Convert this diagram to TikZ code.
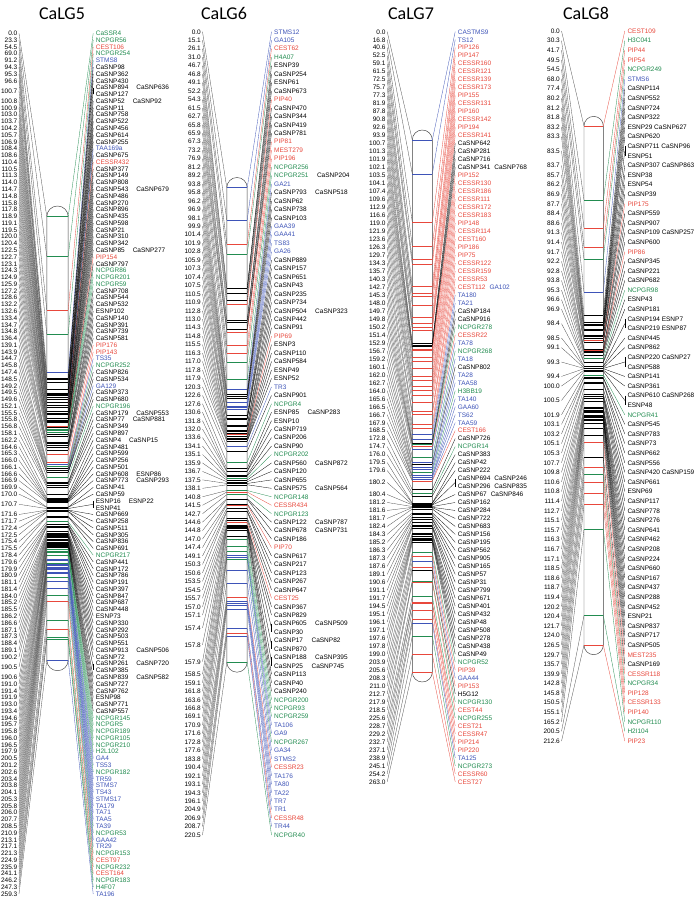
\documentclass[tikz,border=0pt]{standalone}
\usepackage{fontspec}
\setmainfont{Liberation Sans}
\newfontfamily\titlefont{Carlito}
\definecolor{mk}{RGB}{0,0,0}
\definecolor{mr}{RGB}{232,72,60}
\definecolor{mg}{RGB}{34,140,80}
\definecolor{mb}{RGB}{62,84,184}
\newcount\rowc
\newlength\gapw
\newcommand\gp{\hspace*{\gapw}}
\tikzset{
  llab/.style={anchor=east,font=\fontsize{6.5}{7}\selectfont,inner xsep=1.5pt,inner ysep=0pt,text height=4.65pt,text depth=0pt},
  rlab/.style={anchor=west,font=\fontsize{6.5}{7}\selectfont,inner xsep=2.5pt,inner ysep=0pt,text height=4.65pt,text depth=0pt},
  lline/.style={line width=0.3pt,draw=black!70},
  rline/.style={line width=0.3pt},
  tickst/.style={line width=0.45pt},
  barst/.style={draw=black!75,line width=0.45pt,fill=white},
  ttl/.style={font=\titlefont\fontsize{18}{20}\selectfont,inner sep=0pt}
}
\newcommand\drawchrom[2]{%
  \pgfmathsetmacro\crad{(\cbr-\cbl)/2}%
  \draw[barst] (\cbl,\cyb) -- (\cbl,\cyt) arc[start angle=180,end angle=0,radius=\crad pt] -- (\cbr,\cyb) arc[start angle=0,end angle=-180,radius=\crad pt] -- cycle;
  \global\rowc=0
  \foreach \mpos/\mcol/\mflg/\mtxt in {#2}{%
    \edef\ix{\the\rowc}%
    \pgfmathsetmacro\yr{\cyz+\ix*\cdy}%
    \pgfmathsetmacro\yp{\cyt+\mpos*\csc}%
    \ifnum\mflg=1\relax\pgfmathsetmacro\yl{\yr+0.5*\cdy}\else\let\yl\yr\fi
    \coordinate (A#1-\ix) at (\cbl,\yp);
    \coordinate (B#1-\ix) at (\cbr,\yp);
    \node[rlab,text=\mcol] (R#1-\ix) at (\cxr-2.5,\yr) {\mtxt};
    \ifnum\mflg<2\relax
      \node[llab] (L#1-\ix) at (\cxl+1.5,\yl) {\mpos};
      \draw[lline] (L#1-\ix.east) -- (A#1-\ix);
      \draw[tickst,color=\mcol] (A#1-\ix) -- (B#1-\ix);
    \fi
    \ifnum\mflg=0\relax
      \draw[rline,color=\mcol] (B#1-\ix) -- (R#1-\ix.west);
    \fi
    \ifnum\mflg=1\relax
      \coordinate (K#1-\ix) at (\cxr-2.5,\yl);
      \draw[rline,color=\mcol] (B#1-\ix) -- (K#1-\ix);
    \fi
    \ifnum\mflg=2\relax
      \pgfmathtruncatemacro\ixp{\ix-1}%
      \draw[rline,color=\mcol] (R#1-\ixp.west) -- (R#1-\ix.west);
    \fi
    \global\advance\rowc by 1\relax
  }%
}
\begin{document}
\begin{tikzpicture}[x=1pt,y=-1pt]
\fill[white] (0,0) rectangle (696,898);
\useasboundingbox (0,0) rectangle (696,898);
\node[ttl] (t5) at (62,13.5) {CaLG5};
\node[ttl] (t6) at (224,13.5) {CaLG6};
\node[ttl] (t7) at (411,13.5) {CaLG7};
\node[ttl] (t8) at (586,13.5) {CaLG8};
% ---------------- CaLG5
\def\cxl{17.5}\def\cbl{46.8}\def\cbr{68.2}\def\cxr{95.7}
\def\cyz{33.3}\def\cdy{6.777}\def\cyt{216.7}\def\cyb{660}\def\csc{1.7096}
\setlength\gapw{8pt}
\drawchrom{5}{0.0/mg/0/CaSSR4,23.3/mg/0/NCPGR56,54.5/mr/0/CEST106,69.0/mg/0/NCPGR254,91.2/mb/0/STMS8,94.3/mk/0/CaSNP98,95.3/mk/0/CaSNP362,96.6/mk/0/CaSNP430,100.7/mk/1/CaSNP894\gp CaSNP636,100.7/mk/2/CaSNP127,100.8/mk/0/CaSNP52\gp CaSNP92,100.9/mk/0/CaSNP11,103.0/mk/0/CaSNP758,103.7/mk/0/CaSNP522,104.2/mk/0/CaSNP456,105.7/mk/0/CaSNP614,106.9/mk/0/CaSNP255,108.4/mb/0/TAA169a,108.6/mk/0/CaSNP675,110.4/mr/0/CESSR432,110.5/mk/0/CaSNP377,111.3/mk/0/CaSNP149,114.0/mk/0/CaSNP808,114.7/mk/0/CaSNP543\gp CaSNP679,114.8/mk/0/CaSNP486,115.8/mk/0/CaSNP270,117.8/mk/0/CaSNP896,118.9/mk/0/CaSNP435,119.1/mk/0/CaSNP598,119.5/mk/0/CaSNP21,120.0/mk/0/CaSNP310,120.4/mk/0/CaSNP342,122.5/mk/0/CaSNP85\gp CaSNP277,122.7/mr/0/PIP154,123.1/mk/0/CaSNP797,124.3/mg/0/NCPGR86,124.9/mg/0/NCPGR201,125.9/mg/0/NCPGR59,127.2/mk/0/CaSNP708,128.6/mk/0/CaSNP544,132.2/mk/0/CaSNP532,132.6/mk/0/ESNP102,133.4/mk/0/CaSNP140,134.7/mk/0/CaSNP391,134.8/mk/0/CaSNP739,136.4/mk/0/CaSNP581,139.1/mr/0/PIP176,143.9/mr/0/PIP143,144.7/mb/0/TS35,145.8/mg/0/NCPGR252,147.4/mk/0/CaSNP826,148.5/mk/0/CaSNP534,149.2/mb/0/GA129,149.5/mk/0/CaSNP373,149.6/mk/0/CaSNP680,152.1/mg/0/NCPGR196,155.5/mk/0/CaSNP179\gp CaSNP553,155.8/mk/0/CaSNP77\gp CaSNP881,156.8/mk/0/CaSNP349,158.1/mk/0/CaSNP897,162.2/mk/0/CaSNP4\gp CaSNP15,164.6/mk/0/CaSNP481,165.3/mk/0/CaSNP599,166.0/mk/0/CaSNP256,166.1/mk/0/CaSNP501,166.6/mk/0/CaSNP608\gp ESNP86,166.9/mk/0/CaSNP773\gp CaSNP293,169.9/mk/0/CaSNP41,170.0/mk/0/CaSNP59,170.7/mk/1/ESNP16\gp ESNP22,170.7/mk/2/ESNP41,171.6/mk/0/CaSNP669,171.7/mk/0/CaSNP258,172.4/mk/0/CaSNP511,172.5/mk/0/CaSNP305,175.4/mk/0/CaSNP836,175.5/mk/0/CaSNP691,178.4/mg/0/NCPGR217,179.6/mk/0/CaSNP441,179.9/mk/0/CaSNP172,180.9/mk/0/CaSNP786,181.1/mk/0/CaSNP191,181.4/mk/0/CaSNP397,184.0/mk/0/CaSNP847,185.2/mk/0/CaSNP687,185.5/mk/0/CaSNP448,186.2/mk/0/ESNP73,186.6/mk/0/CaSNP330,187.1/mk/0/CaSNP292,187.3/mk/0/CaSNP503,188.4/mk/0/CaSNP551,189.1/mk/0/CaSNP913\gp CaSNP506,190.2/mk/0/CaSNP72,190.5/mk/1/CaSNP261\gp CaSNP720,190.5/mk/2/CaSNP385,190.6/mk/0/CaSNP839\gp CaSNP582,191.0/mk/0/CaSNP727,191.4/mk/0/CaSNP762,191.9/mk/0/ESNP98,193.0/mk/0/CaSNP771,193.4/mk/0/CaSNP557,194.6/mg/0/NCPGR145,195.7/mg/0/NCPGR5,195.8/mg/0/NCPGR189,196.0/mg/0/NCPGR105,196.5/mg/0/NCPGR210,197.9/mg/0/H2L102,200.5/mb/0/GA4,201.2/mb/0/TS53,202.6/mg/0/NCPGR182,203.4/mb/0/TR59,203.8/mb/0/STMS7,204.1/mb/0/TS43,205.3/mb/0/STMS17,205.8/mb/0/TA179,206.0/mb/0/TA71,207.7/mb/0/TAA5,208.5/mb/0/TA39,210.9/mg/0/NCPGR53,213.1/mb/0/GAA42,217.1/mb/0/TR29,221.3/mg/0/NCPGR153,224.9/mr/0/CEST97,235.9/mg/0/NCPGR232,241.1/mr/0/CEST164,246.2/mg/0/NCPGR183,247.3/mg/0/H4F07,259.3/mb/0/TA196}
% ---------------- CaLG6
\def\cxl{201}\def\cbl{226.8}\def\cbr{247.2}\def\cxr{274}
\def\cyz{31.7}\def\cdy{8.456}\def\cyt{187.7}\def\cyb{662}\def\csc{2.151}
\setlength\gapw{8.5pt}
\drawchrom{6}{0.0/mb/0/STMS12,15.1/mb/0/GA105,26.1/mr/0/CEST62,31.0/mg/0/H4A07,46.7/mk/0/ESNP39,46.8/mk/0/CaSNP254,49.1/mk/0/ESNP61,52.2/mk/0/CaSNP673,54.3/mr/0/PIP40,61.5/mk/0/CaSNP470,62.7/mk/0/CaSNP344,65.8/mk/0/CaSNP419,65.9/mk/0/CaSNP781,67.3/mr/0/PIP81,73.2/mr/0/MEST279,76.9/mr/0/PIP196,81.2/mg/0/NCPGR256,89.2/mg/0/NCPGR251\gp\textcolor{mk}{CaSNP204},93.8/mb/0/GA21,95.8/mk/0/CaSNP793\gp CaSNP518,96.2/mk/0/CaSNP62,96.9/mk/0/CaSNP738,98.1/mk/0/CaSNP103,99.9/mb/0/GAA39,101.4/mb/0/GAA41,101.9/mb/0/TS83,102.8/mb/0/GA26,105.9/mk/0/CaSNP889,107.3/mk/0/CaSNP157,107.4/mk/0/CaSNP651,107.5/mk/0/CaSNP43,110.5/mk/0/CaSNP235,110.9/mk/0/CaSNP734,112.8/mk/0/CaSNP504\gp CaSNP323,113.0/mk/0/CaSNP442,114.3/mk/0/CaSNP91,114.8/mr/0/PIP69,115.5/mk/0/ESNP3,116.3/mk/0/CaSNP110,117.0/mk/0/CaSNP584,117.8/mk/0/ESNP49,117.9/mk/0/ESNP52,120.3/mb/0/TR3,122.6/mk/0/CaSNP901,127.6/mg/0/NCPGR4,130.6/mk/0/ESNP85\gp CaSNP283,131.8/mk/0/ESNP10,132.0/mk/0/CaSNP719,133.6/mk/0/CaSNP206,134.1/mk/0/CaSNP90,135.1/mg/0/NCPGR202,135.9/mk/0/CaSNP560\gp CaSNP872,136.7/mk/0/CaSNP120,137.5/mk/0/CaSNP655,138.1/mk/0/CaSNP575\gp CaSNP564,140.8/mg/0/NCPGR148,141.5/mr/0/CESSR434,142.7/mg/0/NCPGR123,144.6/mk/0/CaSNP122\gp CaSNP787,144.8/mk/0/CaSNP678\gp CaSNP731,147.0/mk/0/CaSNP186,147.4/mr/0/PIP70,149.1/mk/0/CaSNP617,150.3/mk/0/CaSNP217,150.6/mk/0/CaSNP123,153.5/mk/0/CaSNP267,154.5/mk/0/CaSNP647,155.7/mr/0/CEST25,157.0/mk/0/CaSNP367,157.1/mk/0/CaSNP829,157.4/mk/1/CaSNP605\gp CaSNP509,157.4/mk/2/CaSNP30,157.8/mk/1/CaSNP17\gp CaSNP82,157.8/mk/2/CaSNP870,157.9/mk/1/CaSNP188\gp CaSNP395,157.9/mk/2/CaSNP25\gp CaSNP745,158.5/mk/0/CaSNP113,159.1/mk/0/CaSNP40,161.8/mk/0/CaSNP240,163.6/mg/0/NCPGR200,166.8/mg/0/NCPGR93,169.1/mg/0/NCPGR259,170.9/mb/0/TA106,171.6/mb/0/GA9,172.8/mg/0/NCPGR267,177.6/mb/0/GA34,183.8/mb/0/STMS2,190.4/mr/0/CESSR23,192.1/mb/0/TA176,193.1/mb/0/TA80,194.3/mb/0/TA22,196.1/mb/0/TR7,204.9/mb/0/TR1,206.9/mr/0/CESSR48,208.7/mb/0/TR44,220.5/mg/0/NCPGR40}
% ---------------- CaLG7
\def\cxl{385.7}\def\cbl{412.3}\def\cbr{432.3}\def\cxr{457.7}
\def\cyz{31.7}\def\cdy{7.979}\def\cyt{140}\def\cyb{672}\def\csc{2.0228}
\setlength\gapw{4pt}
\drawchrom{7}{0.0/mb/0/CASTMS9,16.8/mb/0/TS12,40.6/mr/0/PIP126,52.5/mr/0/PIP147,59.1/mr/0/CESSR160,61.5/mr/0/CESSR121,72.5/mr/0/CESSR139,75.7/mr/0/CESSR173,77.3/mr/0/PIP155,81.9/mr/0/CESSR131,87.8/mr/0/PIP160,90.8/mr/0/CESSR142,92.6/mr/0/PIP194,93.9/mr/0/CESSR141,100.7/mk/0/CaSNP642,101.3/mk/0/CaSNP281,101.9/mk/0/CaSNP716,102.1/mk/0/CaSNP341\gp CaSNP768,103.5/mr/0/PIP152,104.1/mr/0/CESSR130,107.4/mr/0/CESSR186,109.6/mr/0/CESSR111,112.9/mr/0/CESSR172,116.6/mr/0/CESSR183,119.0/mr/0/PIP148,121.9/mr/0/CESSR114,123.6/mr/0/CEST160,126.3/mr/0/PIP186,129.7/mr/0/PIP75,134.3/mr/0/CESSR122,135.7/mr/0/CESSR159,140.3/mr/0/CESSR53,142.7/mr/0/CEST112\gp\textcolor{mb}{GA102},145.3/mb/0/TA180,148.0/mb/0/TA21,149.7/mk/0/CaSNP184,149.8/mk/0/CaSNP916,150.2/mg/0/NCPGR278,151.4/mr/0/CESSR22,152.9/mb/0/TA78,156.7/mg/0/NCPGR268,159.2/mb/0/TA18,160.1/mk/0/CaSNP802,162.0/mb/0/TA28,162.7/mb/0/TAA58,164.0/mg/0/H3BB19,165.6/mb/0/TA140,166.5/mb/0/GAA60,166.7/mb/0/TS62,167.9/mb/0/TAA59,168.5/mr/0/CEST166,172.8/mk/0/CaSNP726,174.7/mg/0/NCPGR14,176.0/mk/0/CaSNP383,179.5/mk/0/CaSNP42,179.6/mk/0/CaSNP222,180.2/mk/1/CaSNP694\gp CaSNP246,180.2/mk/2/CaSNP296\gp CaSNP835,180.4/mk/0/CaSNP67\gp CaSNP846,181.2/mk/0/CaSNP162,181.6/mk/0/CaSNP284,181.7/mk/0/CaSNP722,182.4/mk/0/CaSNP683,184.3/mk/0/CaSNP156,185.2/mk/0/CaSNP195,186.3/mk/0/CaSNP562,187.3/mk/0/CaSNP905,187.6/mk/0/CaSNP165,189.1/mk/0/CaSNP57,190.6/mk/0/CaSNP31,191.1/mk/0/CaSNP799,191.7/mk/0/CaSNP671,194.5/mk/0/CaSNP401,195.1/mk/0/CaSNP432,196.1/mk/0/CaSNP48,197.1/mk/0/CaSNP508,197.6/mk/0/CaSNP278,197.8/mk/0/CaSNP438,199.0/mk/0/CaSNP49,203.9/mg/0/NCPGR52,205.6/mr/0/PIP39,208.3/mb/0/GAA44,211.0/mr/0/PIP153,212.7/mk/0/H5G12,217.9/mg/0/NCPGR130,218.5/mr/0/CEST44,225.6/mg/0/NCPGR255,228.7/mr/0/CEST21,229.2/mr/0/CESSR47,232.7/mr/0/PIP214,237.1/mr/0/PIP220,238.9/mb/0/TA125,245.1/mg/0/NCPGR273,254.2/mr/0/CESSR60,263.0/mr/0/CEST27}
% ---------------- CaLG8
\def\cxl{560}\def\cbl{584}\def\cbr{603.3}\def\cxr{627.3}
\def\cyz{31}\def\cdy{9.595}\def\cyt{126}\def\cyb{645}\def\csc{2.4412}
\setlength\gapw{1.8pt}
\drawchrom{8}{0.0/mr/0/CEST109,30.3/mg/0/H3C041,41.7/mr/0/PIP44,49.5/mr/0/PIP54,54.5/mg/0/NCPGR249,68.0/mb/0/STMS6,77.4/mk/0/CaSNP114,80.2/mk/0/CaSNP552,81.2/mk/0/CaSNP724,81.8/mk/0/CaSNP322,83.2/mk/0/ESNP29\gp CaSNP627,83.3/mk/0/CaSNP620,83.5/mk/1/CaSNP711\gp CaSNP96,83.5/mk/2/ESNP51,83.7/mk/0/CaSNP307\gp CaSNP863,85.7/mk/0/ESNP38,86.2/mk/0/ESNP54,86.9/mk/0/CaSNP39,87.7/mr/0/PIP175,88.4/mk/0/CaSNP559,88.6/mk/0/CaSNP907,91.3/mk/0/CaSNP109\gp CaSNP257,91.4/mk/0/CaSNP600,91.7/mr/0/PIP86,92.2/mk/0/CaSNP345,92.8/mk/0/CaSNP221,93.8/mk/0/CaSNP682,95.3/mg/0/NCPGR98,96.6/mk/0/ESNP43,96.9/mk/0/CaSNP181,98.4/mk/1/CaSNP194\gp ESNP7,98.4/mk/2/CaSNP219\gp ESNP87,98.5/mk/0/CaSNP445,99.1/mk/0/CaSNP862,99.3/mk/1/CaSNP220\gp CaSNP27,99.3/mk/2/CaSNP588,99.4/mk/0/CaSNP141,100.0/mk/0/CaSNP361,100.5/mk/1/CaSNP610\gp CaSNP268,100.5/mk/2/ESNP48,101.9/mg/0/NCPGR41,103.1/mk/0/CaSNP545,103.2/mk/0/CaSNP783,105.1/mk/0/CaSNP73,105.3/mk/0/CaSNP662,107.7/mk/0/CaSNP556,109.8/mk/0/CaSNP420\gp CaSNP159,110.6/mk/0/CaSNP661,110.8/mk/0/ESNP69,111.4/mk/0/CaSNP117,112.7/mk/0/CaSNP778,115.1/mk/0/CaSNP276,115.7/mk/0/CaSNP641,116.3/mk/0/CaSNP462,116.7/mk/0/CaSNP208,117.1/mk/0/CaSNP224,118.5/mk/0/CaSNP660,118.6/mk/0/CaSNP167,118.7/mk/0/CaSNP437,119.4/mk/0/CaSNP288,120.2/mk/0/CaSNP452,120.4/mk/0/ESNP21,121.7/mk/0/CaSNP837,124.0/mk/0/CaSNP717,126.5/mk/0/CaSNP505,129.7/mr/0/MEST235,135.7/mk/0/CaSNP169,139.9/mr/0/CESSR118,142.8/mg/0/NCPGR34,145.8/mr/0/PIP128,150.5/mr/0/CESSR133,155.1/mr/0/PIP140,165.2/mg/0/NCPGR110,200.5/mg/0/H2I104,212.6/mr/0/PIP23}
\end{tikzpicture}
\end{document}
